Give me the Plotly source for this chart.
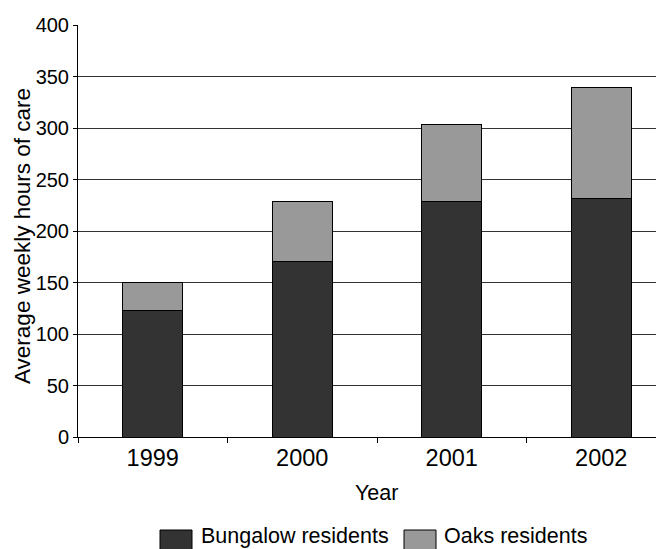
import plotly.graph_objects as go

years = ["1999", "2000", "2001", "2002"]
bungalow = [123, 170, 229, 232]
oaks = [27, 59, 74, 107]
y_ticks = [0, 50, 100, 150, 200, 250, 300, 350, 400]
series_names = ["Bungalow residents", "Oaks residents"]
series_colors = ["#333333", "#999999"]

FONT = "Liberation Sans, Arial, sans-serif"

fig = go.Figure()
for name, vals, col in zip(series_names, [bungalow, oaks], series_colors):
    fig.add_trace(go.Bar(
        x=years, y=vals, name=name, width=0.4,
        marker=dict(color=col, line=dict(color="#000000", width=1)),
        showlegend=False,
    ))

OFF = 8  # page body margin
W, H = 664, 549 - OFF
L, R, T, B = 78 - OFF, 0, 25 - OFF, 112
pw, ph = W - L - R, H - T - B
CAT = 149.5  # reference pixels per category
x_max = -0.5 + pw / CAT

def px(x):  # reference page x -> paper
    return (x - OFF - L) / pw

def py(y):  # reference page y -> paper
    return (H - B - (y - OFF)) / ph

shapes = []
annotations = []
legend_items = [(160, 192, 199), (404, 436, 442)]
for (x0, x1, tx), name, col in zip(legend_items, series_names, series_colors):
    shapes.append(dict(type="rect", xref="paper", yref="paper",
                       x0=px(x0), x1=px(x1), y0=py(530), y1=py(563),
                       fillcolor=col, line=dict(color="#000000", width=1)))
    annotations.append(dict(text=name, xref="paper", yref="paper",
                            x=px(tx), y=py(536), xanchor="left", yanchor="middle",
                            showarrow=False, font=dict(family=FONT, size=21.5, color="#000")))

annotations.append(dict(text="Average weekly hours of care", xref="paper", yref="paper",
                        x=px(22), y=py(236), textangle=-90, xanchor="center", yanchor="middle",
                        showarrow=False, font=dict(family=FONT, size=22.5, color="#000")))
annotations.append(dict(text="Year", xref="paper", yref="paper",
                        x=px(376), y=py(493), xanchor="center", yanchor="middle",
                        showarrow=False, font=dict(family=FONT, size=21.5, color="#000")))

fig.update_layout(
    width=W, height=H,
    margin=dict(l=L, r=R, t=T, b=B, pad=0),
    barmode="stack",
    plot_bgcolor="white", paper_bgcolor="white",
    font=dict(family=FONT, size=20, color="#000"),
    shapes=shapes, annotations=annotations,
    showlegend=False,
)
fig.update_xaxes(
    range=[-0.5, x_max], showline=True, linecolor="#000", linewidth=1,
    ticks="outside", tickson="boundaries", ticklen=5, tickcolor="#000",
    showgrid=False, tickfont=dict(size=23.5), fixedrange=True,
)
fig.update_yaxes(
    range=[0, 400], tickvals=y_ticks, showline=True, linecolor="#000", linewidth=1,
    ticks="outside", ticklen=4, tickcolor="#000",
    showgrid=True, gridcolor="#333333", gridwidth=1, zeroline=False,
    tickfont=dict(size=20),
)
fig.write_html("out.html")
